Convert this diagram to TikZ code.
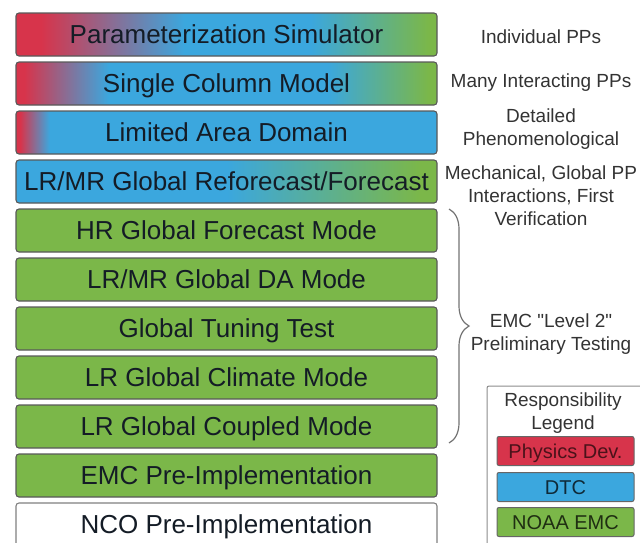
\documentclass[tikz,border=0pt]{standalone}
\usepackage{fontspec}
\setmainfont{Liberation Sans}[Ligatures=TeXOff]
\usetikzlibrary{positioning,decorations.pathreplacing}
\definecolor{physred}{HTML}{D7344B}
\definecolor{dtcblue}{HTML}{3BA7DE}
\definecolor{emcgreen}{HTML}{7BB749}
\definecolor{boxtext}{HTML}{141C26}
\definecolor{sidetext}{HTML}{333333}
\pgfdeclarehorizontalshading{simshade}{100bp}{color(0bp)=(physred); color(28bp)=(physred); color(45bp)=(dtcblue); color(60bp)=(dtcblue); color(74bp)=(emcgreen); color(100bp)=(emcgreen)}
\pgfdeclarehorizontalshading{scmshade}{100bp}{color(0bp)=(physred); color(26bp)=(physred); color(36bp)=(dtcblue); color(62bp)=(dtcblue); color(74bp)=(emcgreen); color(100bp)=(emcgreen)}
\pgfdeclarehorizontalshading{ladshade}{100bp}{color(0bp)=(physred); color(25.5bp)=(physred); color(29bp)=(dtcblue); color(100bp)=(dtcblue)}
\pgfdeclarehorizontalshading{rfcshade}{100bp}{color(0bp)=(dtcblue); color(50bp)=(dtcblue); color(73bp)=(emcgreen); color(100bp)=(emcgreen)}
\begin{document}
\begin{tikzpicture}[x=1pt,y=-1pt]
        \tikzstyle{stage}=[draw=black!65, line width=1.1pt, rounded corners=3pt, minimum width=421pt, minimum height=43pt, inner sep=0pt, outer sep=0pt, text=boxtext, text height=18.7pt, text depth=0pt, font=\fontsize{26}{30}\selectfont]
        \tikzstyle{emc}=[stage, fill=emcgreen]
        \tikzstyle{note}=[text=sidetext, align=center, inner sep=0pt, font=\fontsize{19}{23}\selectfont]
        \tikzstyle{key}=[draw=black!60, line width=1pt, rounded corners=2pt, minimum width=137pt, minimum height=29pt, inner sep=0pt, text height=14.3pt, text depth=0pt, font=\fontsize{20}{24}\selectfont]
        \clip (0,0) rectangle (640,542);
        \node[stage, shade, shading=simshade] (sim) at (226.5,34.5) {Parameterization Simulator};
        \node[stage, shade, shading=scmshade, below=6pt of sim] (scm) {Single Column Model};
        \node[stage, shade, shading=ladshade, below=6pt of scm] (lad) {Limited Area Domain};
        \node[stage, shade, shading=rfcshade, below=6pt of lad] (rfc) {LR/MR Global Reforecast/Forecast};
        \node[emc, below=6pt of rfc] (hrfc) {HR Global Forecast Mode};
        \node[emc, below=6pt of hrfc] (da) {LR/MR Global DA Mode};
        \node[emc, below=6pt of da] (tune) {Global Tuning Test};
        \node[emc, below=6pt of tune] (clim) {LR Global Climate Mode};
        \node[emc, below=6pt of clim] (cpl) {LR Global Coupled Mode};
        \node[emc, below=6pt of cpl] (emcpre) {EMC Pre-Implementation};
        \node[stage, draw=black!50, fill=white, below=6pt of emcpre] (ncopre) {NCO Pre-Implementation};
        \node[note] (simnote) at (541,37) {Individual PPs};
        \node[note] (scmnote) at (541,83) {Many Interacting PPs};
        \node[note] (ladnote) at (541,129) {Detailed\\Phenomenological};
        \node[note] (rfcnote) at (541,195.5) {Mechanical, Global PP\\Interactions, First\\Verification};
        \coordinate (bracetop) at (449,209);
        \coordinate (bracebot) at (449,443);
        \draw[black!55, line width=1.2pt, decorate, decoration={brace, amplitude=20pt}] (bracetop) -- (bracebot);
        \node[note] (level) at (551,334) {EMC "Level 2"\\Preliminary Testing};
        \draw[black!45, line width=1pt, rounded corners=2pt] (487,386) rectangle (660,560);
        \node[note] (legend) at (563,413) {Responsibility\\Legend};
        \node[key, fill=physred, text=physred!35!black] (phys) at (565.5,451) {Physics Dev.};
        \node[key, fill=dtcblue, text=dtcblue!25!black] (dtc) at (565.5,487) {DTC};
        \node[key, fill=emcgreen, text=emcgreen!25!black] (noaa) at (565.5,522) {NOAA EMC};
      \end{tikzpicture}
\end{document}
